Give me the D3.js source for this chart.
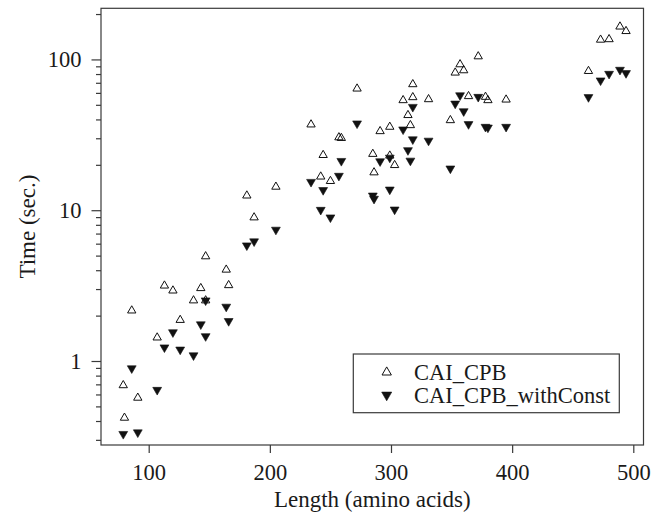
<!DOCTYPE html>
<html>
<head>
<meta charset="utf-8">
<script src="https://cdn.jsdelivr.net/npm/d3@7"></script>
<style>
  html, body { margin: 0; padding: 0; background: #fff; }
  svg { display: block; }
  text { font-family: "Liberation Serif", "Times New Roman", serif; fill: #1a1a1a; }
</style>
</head>
<body>
<svg id="chart" width="665" height="515"></svg>
<script>
// ---- data (Length in amino acids, Time in seconds) ----
const cpbLength = [79, 80, 91, 86, 107, 113, 120, 126, 137, 143, 147, 147, 164, 166, 181, 187, 205,
  234, 242, 244, 250, 257, 259, 272, 285, 286, 291, 299, 299, 303, 310, 314, 316, 318, 318, 331,
  349, 353, 357, 360, 364, 372, 378, 380, 395, 463, 473, 480, 489, 494];
const cpbTime = [0.69, 0.42, 0.57, 2.16, 1.43, 3.16, 2.93, 1.87, 2.52, 3.04, 4.94, 2.52, 4.03, 3.18, 12.5, 8.95, 14.3,
  37.0, 16.7, 23.2, 15.6, 30.4, 30.1, 64.0, 23.6, 17.8, 33.4, 35.7, 23.0, 19.9, 53.6, 42.7, 36.6, 68.4, 56.1, 54.4,
  39.5, 81.7, 92.7, 84.6, 57.0, 104.7, 56.4, 53.6, 54.1, 83.7, 135, 136, 165, 154];

const constLength = [79, 91, 86, 107, 113, 120, 126, 137, 143, 147, 147, 164, 166, 181, 187, 205,
  234, 242, 244, 250, 257, 259, 272, 285, 286, 291, 299, 299, 303, 310, 314, 316, 318, 318, 331,
  349, 353, 357, 360, 364, 372, 378, 380, 395, 463, 473, 480, 489, 494];
const constTime = [0.328, 0.336, 0.894, 0.643, 1.23, 1.55, 1.19, 1.09, 1.75, 1.46, 2.52, 2.29, 1.84, 5.84, 6.21, 7.42,
  15.4, 10.05, 13.6, 8.95, 16.9, 21.2, 37.6, 12.5, 11.9, 21.1, 22.3, 13.7, 10.1, 34.3, 25.0, 21.3, 48.4, 29.5, 28.9,
  18.9, 50.9, 57.8, 45.3, 37.2, 56.4, 35.7, 35.3, 35.7, 56.2, 72.5, 80.2, 85.3, 81.1];

const xTicks = [100, 200, 300, 400, 500];
const yMajorTicks = [1, 10, 100];
const yMinorTicks = [0.3, 0.4, 0.5, 0.6, 0.7, 0.8, 0.9, 2, 3, 4, 5, 6, 7, 8, 9,
  20, 30, 40, 50, 60, 70, 80, 90, 200];
const seriesNames = ["CAI_CPB", "CAI_CPB_withConst"];
const xTitle = "Length (amino acids)";
const yTitle = "Time (sec.)";

// ---- layout ----
const svg = d3.select("#chart");
const plot = { left: 101, right: 643.5, top: 8.3, bottom: 445 };
const lineColor = "#3a3a3a";

const x = d3.scaleLinear().domain([60.63, 508.42]).range([plot.left, plot.right]);
const y = d3.scaleLog().domain([0.2773, 218.3]).range([plot.bottom, plot.top]);

// frame
svg.append("rect")
  .attr("x", plot.left).attr("y", plot.top)
  .attr("width", plot.right - plot.left).attr("height", plot.bottom - plot.top)
  .attr("fill", "none").attr("stroke", lineColor).attr("stroke-width", 1.2);

// x axis
const xAxis = d3.axisBottom(x).tickValues(xTicks).tickSize(8).tickPadding(11).tickFormat(d3.format("d"));
const gx = svg.append("g").attr("transform", `translate(0,${plot.bottom})`).call(xAxis);
gx.select(".domain").remove();
gx.selectAll(".tick line").attr("stroke", lineColor).attr("stroke-width", 1.2);
gx.selectAll(".tick text").attr("font-size", 22.5).attr("font-family", "Liberation Serif").attr("fill", "#1a1a1a");

// y axis (major)
const yAxis = d3.axisLeft(y).tickValues(yMajorTicks).tickSize(9.5).tickPadding(10).tickFormat(d3.format("d"));
const gy = svg.append("g").attr("transform", `translate(${plot.left},0)`).call(yAxis);
gy.select(".domain").remove();
gy.selectAll(".tick line").attr("stroke", lineColor).attr("stroke-width", 1.2);
gy.selectAll(".tick text").attr("font-size", 22.5).attr("font-family", "Liberation Serif").attr("fill", "#1a1a1a");

// y axis (minor)
const yMinor = d3.axisLeft(y).tickValues(yMinorTicks).tickSize(5).tickFormat("");
const gym = svg.append("g").attr("transform", `translate(${plot.left},0)`).call(yMinor);
gym.select(".domain").remove();
gym.selectAll(".tick line").attr("stroke", lineColor).attr("stroke-width", 1.2);

// axis titles
svg.append("text")
  .attr("x", (plot.left + plot.right) / 2).attr("y", 507)
  .attr("text-anchor", "middle").attr("font-size", 23)
  .text(xTitle);
svg.append("text")
  .attr("transform", `translate(35,${(plot.top + plot.bottom) / 2}) rotate(-90)`)
  .attr("text-anchor", "middle").attr("font-size", 23)
  .text(yTitle);

// points
const triUp = d3.symbol().type(d3.symbolTriangle).size(30);
const triDown = d3.symbol().type(d3.symbolTriangle).size(34);

const cpbData = cpbLength.map((l, i) => ({ l, t: cpbTime[i] }));
const constData = constLength.map((l, i) => ({ l, t: constTime[i] }));

svg.append("g").selectAll("path").data(cpbData).join("path")
  .attr("d", triUp)
  .attr("transform", d => `translate(${x(d.l)},${y(d.t)})`)
  .attr("fill", "none").attr("stroke", "#111").attr("stroke-width", 1);

svg.append("g").selectAll("path").data(constData).join("path")
  .attr("d", triDown)
  .attr("transform", d => `translate(${x(d.l)},${y(d.t)}) rotate(180)`)
  .attr("fill", "#111").attr("stroke", "#111").attr("stroke-width", 0.6);

// legend
const lg = svg.append("g");
lg.append("rect")
  .attr("x", 353.3).attr("y", 354).attr("width", 266).attr("height", 58.7)
  .attr("fill", "#fff").attr("stroke", lineColor).attr("stroke-width", 1.2);
const legRows = [
  { name: seriesNames[0], cy: 372.3, open: true },
  { name: seriesNames[1], cy: 395, open: false }
];
legRows.forEach(r => {
  lg.append("path")
    .attr("d", d3.symbol().type(d3.symbolTriangle).size(r.open ? 38 : 44)())
    .attr("transform", `translate(386.7,${r.cy})${r.open ? "" : " rotate(180)"}`)
    .attr("fill", r.open ? "none" : "#111").attr("stroke", "#111").attr("stroke-width", r.open ? 1 : 0.6);
  lg.append("text")
    .attr("x", 414).attr("y", r.cy + 7.5)
    .attr("font-size", 22.5)
    .text(r.name);
});
</script>
</body>
</html>
